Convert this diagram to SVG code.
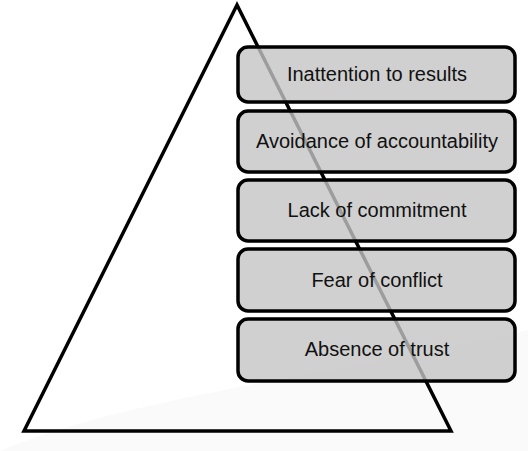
<svg xmlns="http://www.w3.org/2000/svg" width="528" height="451" viewBox="0 0 528 451">
<style>
.box{fill:#c4c4c4;fill-opacity:0.8;stroke:#000;stroke-width:3.5}
.lbl{font-family:"Liberation Sans",Arial,sans-serif;font-size:20px;fill:#111;text-anchor:middle}
</style>
<rect width="528" height="451" fill="#fff"/>
<path d="M0,451 C120,400 300,380 528,330 L528,451 Z" fill="#f7f7f7" opacity="0.6"/>
<g id="pyramid">
<polygon points="237,5 24,431 451,431" fill="none" stroke="#000" stroke-width="3.5" stroke-linejoin="miter"/>
</g>
<g id="connectors"></g>
<g id="n1"><rect class="box" x="238" y="47" width="277" height="55" rx="10"/><text class="lbl" x="377" y="81">Inattention to results</text></g>
<g id="n2"><rect class="box" x="238" y="111" width="277" height="61" rx="10"/><text class="lbl" x="377" y="148">Avoidance of accountability</text></g>
<g id="n3"><rect class="box" x="238" y="180" width="277" height="61" rx="10"/><text class="lbl" x="377" y="217">Lack of commitment</text></g>
<g id="n4"><rect class="box" x="238" y="249" width="277" height="62" rx="10"/><text class="lbl" x="377" y="287">Fear of conflict</text></g>
<g id="n5"><rect class="box" x="238" y="319" width="277" height="62" rx="10"/><text class="lbl" x="377" y="356">Absence of trust</text></g>
</svg>
